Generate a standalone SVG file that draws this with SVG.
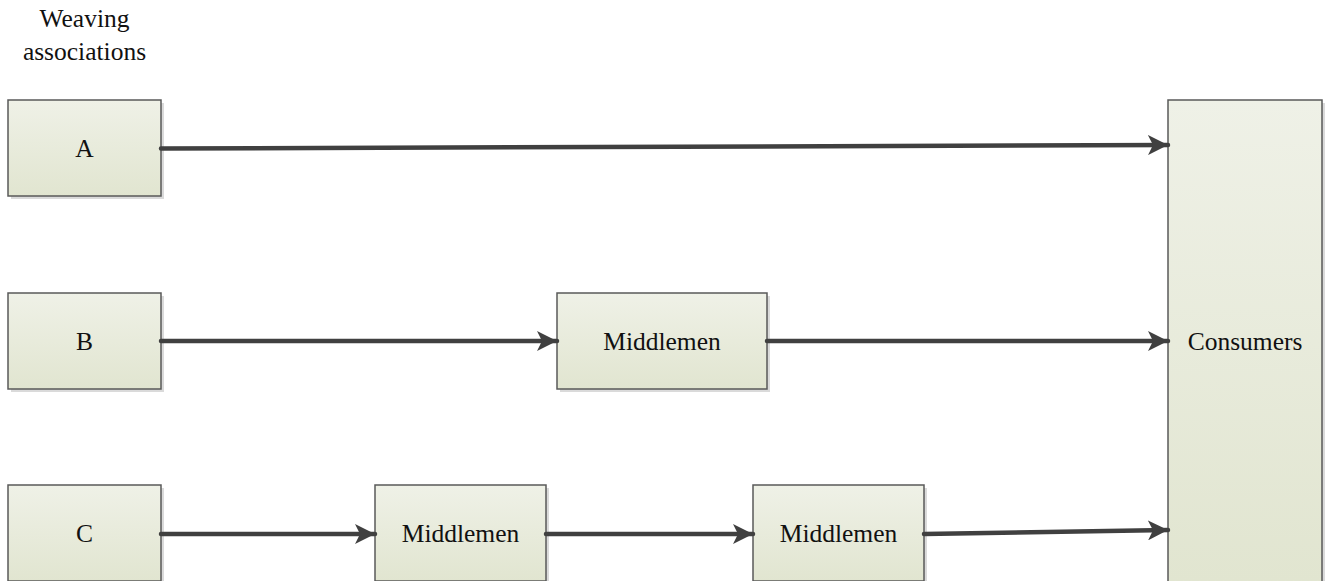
<svg xmlns="http://www.w3.org/2000/svg" width="1326" height="581" viewBox="0 0 1326 581">
  <defs>
    <linearGradient id="boxFill" x1="0" y1="0" x2="0" y2="1">
      <stop offset="0" stop-color="#eff1e7"/>
      <stop offset="1" stop-color="#e1e5d0"/>
    </linearGradient>
    <linearGradient id="tallFill" gradientUnits="userSpaceOnUse" x1="0" y1="100" x2="0" y2="582">
      <stop offset="0" stop-color="#eff1e7"/>
      <stop offset="1" stop-color="#e1e5d0"/>
    </linearGradient>
    <marker id="arrow" viewBox="0 0 20 20" refX="20" refY="10" markerWidth="20" markerHeight="20" markerUnits="userSpaceOnUse" orient="auto">
      <path d="M0,0 L20,10 L0,20 L5,10 Z" fill="#404040"/>
    </marker>
  </defs>
  <style>
    .shadow { fill: #dadada; }
    .box { fill: url(#boxFill); stroke: #595959; stroke-width: 1.5; }
    .tall { fill: url(#tallFill); stroke: #595959; stroke-width: 1.5; }
    .label { font-family: "Liberation Serif", "Times New Roman", serif; font-size: 25.5px; fill: #111; text-anchor: middle; }
    .edge { fill: none; stroke: #404040; stroke-width: 4.5; stroke-linecap: round; marker-end: url(#arrow); }
  </style>

  <!-- column heading -->
  <g id="heading">
    <text class="label" x="84.5" y="27">Weaving</text>
    <text class="label" x="84.5" y="60">associations</text>
  </g>

  <!-- weaving associations -->
  <g id="node-a">
    <rect class="shadow" x="11" y="103" width="153" height="96"/>
    <rect class="box" x="8" y="100" width="153" height="96"/>
    <text class="label" x="84.5" y="156.5">A</text>
  </g>
  <g id="node-b">
    <rect class="shadow" x="11" y="296" width="153" height="96"/>
    <rect class="box" x="8" y="293" width="153" height="96"/>
    <text class="label" x="84.5" y="349.5">B</text>
  </g>
  <g id="node-c">
    <rect class="shadow" x="11" y="488" width="153" height="96"/>
    <rect class="box" x="8" y="485" width="153" height="96"/>
    <text class="label" x="84.5" y="541.5">C</text>
  </g>

  <!-- middlemen -->
  <g id="middlemen-b">
    <rect class="shadow" x="560" y="296" width="210" height="96"/>
    <rect class="box" x="557" y="293" width="210" height="96"/>
    <text class="label" x="662" y="349.5">Middlemen</text>
  </g>
  <g id="middlemen-c1">
    <rect class="shadow" x="378" y="488" width="171" height="96"/>
    <rect class="box" x="375" y="485" width="171" height="96"/>
    <text class="label" x="460.5" y="541.5">Middlemen</text>
  </g>
  <g id="middlemen-c2">
    <rect class="shadow" x="756" y="488" width="171" height="96"/>
    <rect class="box" x="753" y="485" width="171" height="96"/>
    <text class="label" x="838.5" y="541.5">Middlemen</text>
  </g>

  <!-- consumers -->
  <g id="consumers">
    <rect class="shadow" x="1171" y="103" width="154" height="482"/>
    <rect class="tall" x="1168" y="100" width="154" height="482"/>
    <text class="label" x="1245" y="349.5">Consumers</text>
  </g>

  <!-- connectors -->
  <g id="connectors">
    <path class="edge" d="M161,148.5 L1168,145"/>
    <path class="edge" d="M161,341 L557,341"/>
    <path class="edge" d="M767,341 L1168,341"/>
    <path class="edge" d="M161,534 L375,534"/>
    <path class="edge" d="M546,534 L753,534"/>
    <path class="edge" d="M924,534 L1168,530"/>
  </g>
</svg>
